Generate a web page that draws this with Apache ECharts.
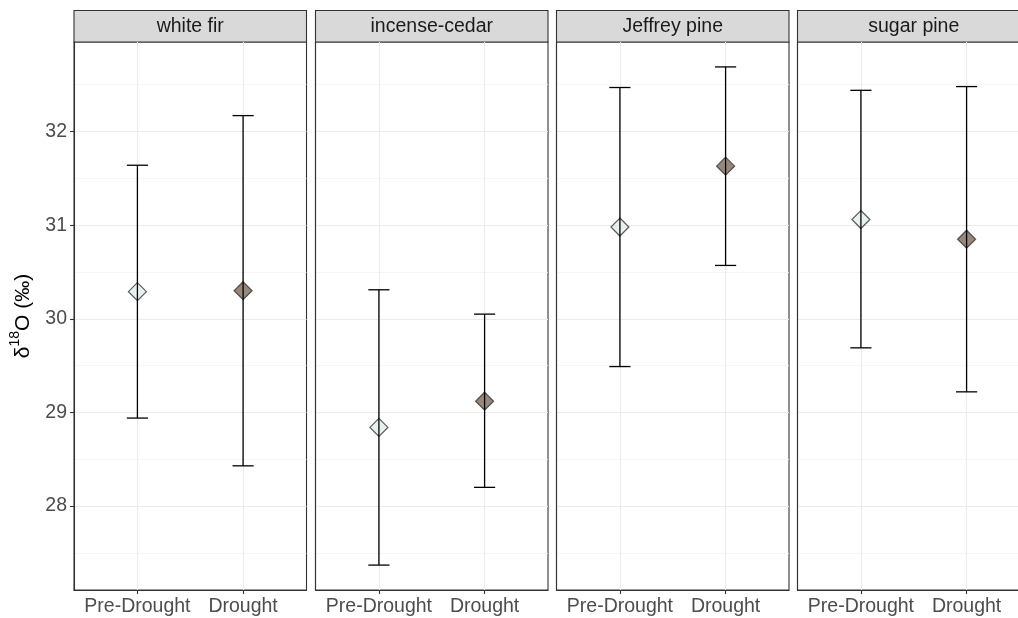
<!DOCTYPE html>
<html>
<head>
<meta charset="utf-8">
<script src="https://cdn.jsdelivr.net/npm/echarts@6/dist/echarts.min.js"></script>
<style>
  html, body { margin: 0; padding: 0; background: #fff; }
  #chart { width: 1018px; height: 618px; }
</style>
</head>
<body>
<div id="chart"></div>
<script>
// Species panels and drought periods
const species = ['white fir', 'incense-cedar', 'Jeffrey pine', 'sugar pine'];
const periods = ['Pre-Drought', 'Drought'];

// Mean δ18O per species (rows) and period (columns), with interval bounds
const meanVals  = [[30.29, 30.30], [28.84, 29.12], [30.98, 31.63], [31.06, 30.85]];
const lowerVals = [[28.94, 28.43], [27.37, 28.20], [29.49, 30.57], [29.69, 29.22]];
const upperVals = [[31.64, 32.17], [30.31, 30.05], [32.47, 32.69], [32.44, 32.48]];

// Axis ticks
const yTicks = [28, 29, 30, 31, 32];
const yMinorTicks = [27.5, 28.5, 29.5, 30.5, 31.5, 32.5];
const periodColors = ['#e2eeeb', '#7e6a5b'];

const FONT = 'Liberation Sans, Arial, sans-serif';
const panelLeft = [74, 315.5, 556.5, 797.5];
const panelWidth = 232.5;
const panelTop = 42;
const panelHeight = 548;
const yMin = 27.104, yMax = 32.956;
const xPos = periods.map((p, i) => i + 1);

const grids = [], xAxes = [], yAxes = [], series = [], graphics = [];
const frameLine = { show: true, lineStyle: { color: '#333333', width: 1.1 } };

species.forEach((sp, k) => {
  grids.push({
    left: panelLeft[k], top: panelTop, width: panelWidth, height: panelHeight,
    outerBoundsMode: 'none', containLabel: false,
    show: true, borderColor: '#333333', borderWidth: 1.1
  });
  xAxes.push({
    type: 'value', gridIndex: k, min: 0.4, max: 2.6,
    axisLine: frameLine,
    axisTick: { show: true, length: 4, lineStyle: { color: '#333333', width: 1.1 }, customValues: xPos },
    axisLabel: {
      show: true, customValues: xPos, margin: 7,
      formatter: v => periods[Math.round(v) - 1] || '',
      color: '#4d4d4d', fontSize: 19.5, fontFamily: FONT
    },
    splitLine: { show: true, lineStyle: { color: '#ebebeb', width: 1.1 } }
  });
  // major grid + tick labels
  yAxes.push({
    type: 'value', gridIndex: k, min: yMin, max: yMax,
    axisLine: frameLine,
    axisTick: { show: k === 0, length: 4, lineStyle: { color: '#333333', width: 1.1 }, customValues: yTicks },
    axisLabel: {
      show: k === 0, customValues: yTicks, margin: 7,
      color: '#4d4d4d', fontSize: 19.5, fontFamily: FONT
    },
    splitLine: { show: true, lineStyle: { color: '#ebebeb', width: 1.1 } },
    name: k === 0 ? '{a|δ}{b|18}{a|O (‰)}' : '',
    nameLocation: 'middle', nameGap: 40, nameRotate: 90,
    nameTextStyle: {
      rich: {
        a: { fontSize: 21, fontFamily: FONT, color: '#000', lineHeight: 26, verticalAlign: 'bottom' },
        b: { fontSize: 14, fontFamily: FONT, color: '#000', lineHeight: 26, verticalAlign: 'top', padding: [0, 0, 9, 0] }
      }
    }
  });
  // minor grid
  yAxes.push({
    type: 'value', gridIndex: k, min: yMin, max: yMax,
    axisLine: { show: false },
    axisTick: { show: false, customValues: yMinorTicks },
    axisLabel: { show: false, customValues: yMinorTicks },
    splitLine: { show: true, lineStyle: { color: '#f2f2f2', width: 0.8 } }
  });

  const pts = periods.map((p, i) => ({
    value: [xPos[i], meanVals[k][i]],
    itemStyle: { color: periodColors[i], borderColor: '#333333', borderWidth: 1.2 }
  }));
  series.push({
    type: 'scatter', xAxisIndex: k, yAxisIndex: 2 * k,
    symbol: 'diamond', symbolSize: [18, 18], data: pts, z: 3, silent: true
  });
  const bars = periods.map((p, i) => [xPos[i], lowerVals[k][i], upperVals[k][i]]);
  series.push({
    type: 'custom', xAxisIndex: k, yAxisIndex: 2 * k, data: bars, z: 4, silent: true,
    renderItem: (params, api) => {
      const x = api.value(0), lo = api.value(1), hi = api.value(2);
      const pLo = api.coord([x, lo]), pHi = api.coord([x, hi]);
      const capL = api.coord([x - 0.1, lo])[0], capR = api.coord([x + 0.1, lo])[0];
      const style = { stroke: '#000', lineWidth: 1.3 };
      return {
        type: 'group',
        children: [
          { type: 'line', shape: { x1: pLo[0], y1: pLo[1], x2: pHi[0], y2: pHi[1] }, style },
          { type: 'line', shape: { x1: capL, y1: pLo[1], x2: capR, y2: pLo[1] }, style },
          { type: 'line', shape: { x1: capL, y1: pHi[1], x2: capR, y2: pHi[1] }, style }
        ]
      };
    }
  });

  // facet strip
  graphics.push({
    type: 'group', x: panelLeft[k], y: 10.5,
    children: [
      { type: 'rect', shape: { x: 0, y: 0, width: panelWidth, height: 31.5 },
        style: { fill: '#d9d9d9', stroke: '#333333', lineWidth: 1.1 } },
      { type: 'text', x: panelWidth / 2, y: 16,
        style: { text: sp, fill: '#1a1a1a', font: '19.5px ' + FONT, textAlign: 'center', textVerticalAlign: 'middle' } }
    ]
  });
});

const chart = echarts.init(document.getElementById('chart'), null, { renderer: 'canvas' });
chart.setOption({
  backgroundColor: '#ffffff',
  animation: false,
  grid: grids, xAxis: xAxes, yAxis: yAxes, series, graphic: graphics
});
</script>
</body>
</html>
